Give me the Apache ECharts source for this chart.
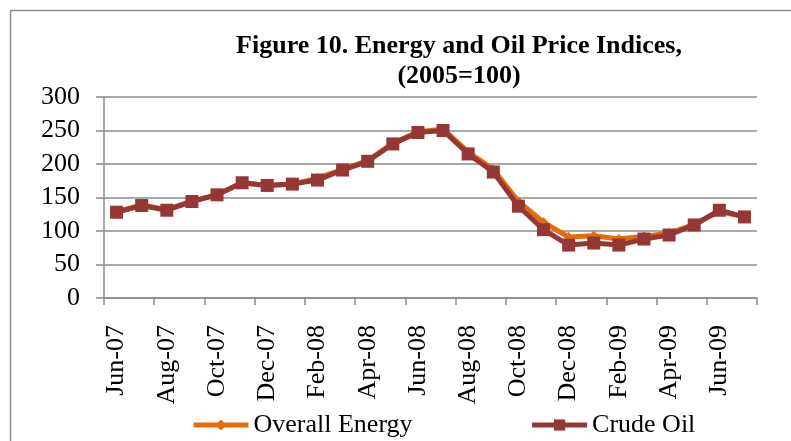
<!DOCTYPE html>
<html>
<head>
<meta charset="utf-8">
<script src="https://cdn.jsdelivr.net/npm/echarts@6/dist/echarts.min.js"></script>
<style>html,body{margin:0;padding:0;background:#fff}#c{width:791px;height:441px}</style>
</head>
<body>
<div id="c"></div>
<script>
const categories = ['Jun-07','Jul-07','Aug-07','Sep-07','Oct-07','Nov-07','Dec-07','Jan-08','Feb-08','Mar-08','Apr-08','May-08','Jun-08','Jul-08','Aug-08','Sep-08','Oct-08','Nov-08','Dec-08','Jan-09','Feb-09','Mar-09','Apr-09','May-09','Jun-09','Jul-09'];
const overallEnergy = [129,139,132,145,154,172,168,170,179,192,205,231,248,252,218,192,144,113,91,93,88,92,97,110,129,121];
const crudeOil =      [128,138,131,144,154,172,168,170,176,191,204,230,247,250,215,188,137,102,79,82,79,88,94,109,131,121];
const yTicks = [0,50,100,150,200,250,300];

const font = '"Liberation Serif","Times New Roman",serif';
const chart = echarts.init(document.getElementById('c'), null, {renderer:'canvas'});
chart.setOption({
  animation:false,
  backgroundColor:'#fff',
  graphic:[{type:'rect',shape:{x:10.5,y:10.5,width:800,height:450},style:{fill:'none',stroke:'#8c8c8c',lineWidth:1.5},silent:true}],
  title:{
    text:'Figure 10. Energy and Oil Price Indices,\n(2005=100)',
    left:454, top:26, textAlign:'center',
    textStyle:{fontFamily:font,fontWeight:'bold',fontSize:26,color:'#000',lineHeight:30}
  },
  grid:{left:104,right:34,top:97,bottom:143,containLabel:false},
  legend:{
    left:186, top:407, itemWidth:55, itemHeight:14, itemGap:117,
    lineStyle:{width:5},
    textStyle:{fontFamily:font,fontSize:26,color:'#000'},
    data:['Overall Energy','Crude Oil']
  },
  xAxis:{
    type:'category', data:categories, boundaryGap:true,
    axisLine:{lineStyle:{color:'#8c8c8c',width:1.5}},
    axisTick:{show:true,interval:1,alignWithLabel:false,length:7,lineStyle:{color:'#8c8c8c',width:1.5}},
    axisLabel:{interval:1,rotate:90,fontFamily:font,fontSize:26,color:'#000',margin:27}
  },
  yAxis:{
    type:'value', min:yTicks[0], max:yTicks[yTicks.length-1], interval:50,
    axisLine:{show:true,lineStyle:{color:'#8c8c8c',width:1.5}},
    axisTick:{show:true,length:8,lineStyle:{color:'#8c8c8c',width:1.5}},
    splitLine:{lineStyle:{color:'#8c8c8c',width:1.5}},
    axisLabel:{fontFamily:font,fontSize:26,color:'#000',margin:24}
  },
  series:[
    {name:'Overall Energy',type:'line',data:overallEnergy,symbol:'diamond',symbolSize:10,
     itemStyle:{color:'#E46C0A'},lineStyle:{color:'#E46C0A',width:5},z:2},
    {name:'Crude Oil',type:'line',data:crudeOil,symbol:'rect',symbolSize:13,
     itemStyle:{color:'#953735'},lineStyle:{color:'#953735',width:5},z:3}
  ]
});
</script>
</body>
</html>
